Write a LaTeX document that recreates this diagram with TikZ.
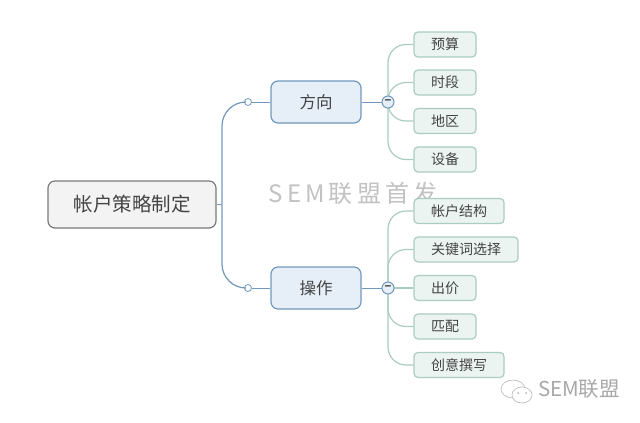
\documentclass[tikz,border=0pt]{standalone}
\usepackage{xcolor}
\usepackage{fontspec}
\setmainfont{Noto Sans CJK SC}
\newfontfamily\markfont[LetterSpace=17]{Noto Sans CJK SC}
\usetikzlibrary{arrows.meta,shapes}
\definecolor{rootfill}{HTML}{F3F3F3}
\definecolor{rootedge}{HTML}{7A7A78}
\definecolor{branchfill}{HTML}{E6EEF8}
\definecolor{branchedge}{HTML}{7298BC}
\definecolor{leaffill}{HTML}{EBF4F0}
\definecolor{leafedge}{HTML}{AACDBF}
\definecolor{inktext}{HTML}{444444}
\tikzset{
rootbox/.style={draw=rootedge,line width=1.2pt,fill=rootfill,rounded corners=7pt,minimum width=168pt,minimum height=47pt,inner sep=0pt,text=inktext,font=\fontsize{19.5}{19.5}\selectfont},
branchbox/.style={draw=branchedge,line width=1.2pt,fill=branchfill,rounded corners=7pt,minimum width=90pt,minimum height=42pt,inner sep=0pt,text=inktext,font=\fontsize{16.5}{16.5}\selectfont},
leafbox/.style={draw=leafedge,line width=1.2pt,fill=leaffill,rounded corners=4pt,minimum height=25pt,inner sep=0pt,text=inktext,font=\fontsize{14}{14}\selectfont},
knob/.style={circle,draw=branchedge,fill=white,line width=0.8pt,minimum size=7pt,inner sep=0pt},
fold/.style={circle,draw=branchedge,fill=branchfill,line width=1pt,minimum size=12pt,inner sep=0pt,text=inktext,font=\fontsize{11}{11}\selectfont\bfseries},
trunk/.style={draw=branchedge,line width=1.2pt},
stem/.style={draw=branchedge,line width=0.8pt},
twig/.style={draw=leafedge,line width=1.2pt,rounded corners=18pt},
}
\begin{document}
\begin{tikzpicture}[x=1pt,y=-1pt]
\useasboundingbox[fill=white](0,0)rectangle(640,423);
\node[text=black!24,font=\fontsize{24}{24}\selectfont\markfont](mark)at(353,193){SEM联盟首发};
\node[rootbox](root)at(132,204.5){帐户策略制定};
\node[branchbox](fangxiang)at(316,102){方向};
\node[branchbox](caozuo)at(316,288){操作};
\node[knob](knobA)at(248,102){};
\node[knob](knobB)at(248,288){};
\coordinate(spine)at(222,204.5);
\coordinate(hubA)at(388,102);
\coordinate(hubB)at(388,288);
\draw[trunk](root)--(spine);
\draw[trunk,rounded corners=24pt](spine)|-(knobA);
\draw[trunk,rounded corners=24pt](spine)|-(knobB);
\draw[stem](knobA)--(fangxiang);
\draw[stem](knobB)--(caozuo);
\node[leafbox,minimum width=62pt](yusuan)at(445,44.5){预算};
\node[leafbox,minimum width=62pt](shiduan)at(445,82.5){时段};
\node[leafbox,minimum width=62pt](diqu)at(445,121){地区};
\node[leafbox,minimum width=62pt](shebei)at(445,159.5){设备};
\node[leafbox,minimum width=90pt](zhanghu)at(459,211){帐户结构};
\node[leafbox,minimum width=104pt](guanjianci)at(466,249.5){关键词选择};
\node[leafbox,minimum width=62pt](chujia)at(445,288){出价};
\node[leafbox,minimum width=62pt](pipei)at(445,326.5){匹配};
\node[leafbox,minimum width=90pt](chuangyi)at(459,365){创意撰写};
\draw[twig](hubA)|-(yusuan.west);
\draw[twig](hubA)|-(shiduan.west);
\draw[twig](hubA)|-(diqu.west);
\draw[twig](hubA)|-(shebei.west);
\draw[twig](hubB)|-(zhanghu.west);
\draw[twig](hubB)|-(guanjianci.west);
\draw[twig](hubB)--(chujia);
\draw[twig](hubB)|-(pipei.west);
\draw[twig](hubB)|-(chuangyi.west);
\node[fold](foldA)at(hubA){−};
\node[fold](foldB)at(hubB){−};
\draw[stem](fangxiang)--(foldA);
\draw[stem](caozuo)--(foldB);
\draw[black!25,line width=0.7pt](513,389)ellipse[x radius=12,y radius=9];
\draw[black!25,line width=0.7pt,fill=white](522,395)ellipse[x radius=10,y radius=8];
\fill[black!28](518,393)circle[radius=1](526,393)circle[radius=1];
\node[text=black!34,font=\fontsize{20.5}{20.5}\selectfont,inner sep=0pt](wechat)at(579,389){SEM联盟};
\end{tikzpicture}
\end{document}
